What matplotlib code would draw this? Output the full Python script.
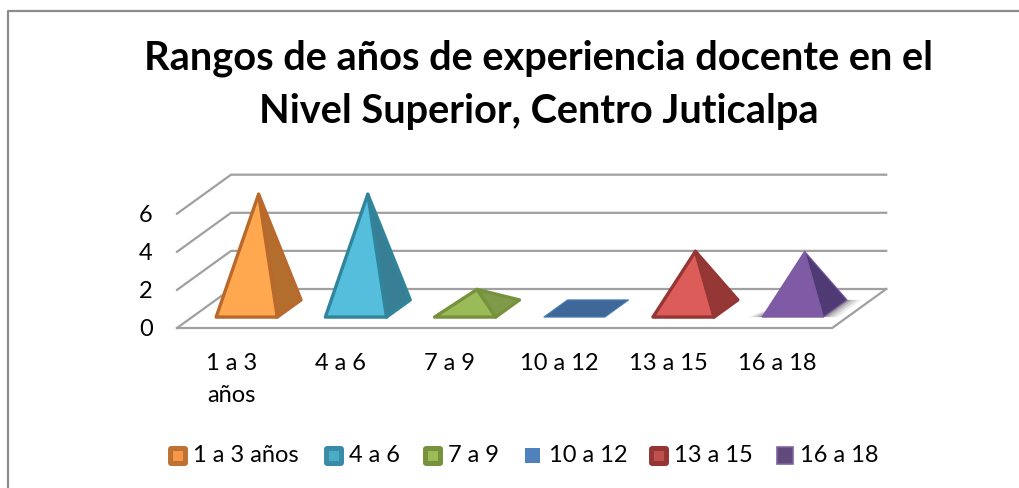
import matplotlib
matplotlib.use("Agg")
import matplotlib.pyplot as plt
from matplotlib.patches import Polygon, Rectangle

categories = ["1 a 3\naños", "4 a 6", "7 a 9", "10 a 12", "13 a 15", "16 a 18"]
legend_labels = ["1 a 3 años", "4 a 6", "7 a 9", "10 a 12", "13 a 15", "16 a 18"]
values = [6, 6, 1, 0, 3, 3]
y_ticks = [0, 2, 4, 6]
front_colors = ["#FFA84F", "#55BEDD", "#9BBB59", "#3F6797", "#DC5C5A", "#7F5BA6"]
side_colors = ["#B36E2E", "#387F96", "#7F9A48", "#3F6797", "#953735", "#4F3A75"]
edge_colors = ["#B8692B", "#31859B", "#76923C", "#4A7EBB", "#943634", "#7A5AA0"]
legend_outer = ["#BC7235", "#3A8BA5", "#76923C", "#4F81BD", "#943634", "#8064A2"]
legend_inner = ["#F79646", "#4BACC6", "#9BBB59", "#4F81BD", "#C0504D", "#604A7B"]

W, H = 1019, 488
UX, UY = 109.2, 19.05      # px per category / per value unit
X0, Y0 = 177, 328          # front left corner of the floor
DX, DY = 54, 39            # wall offset
BASE = 0.56                # pyramid width, in categories
D0, D1 = 0.28, 0.72        # pyramid depth range

fig = plt.figure(figsize=(W / 100, H / 100), dpi=100)
ax = fig.add_axes([0, 0, 1, 1])
ax.set_xlim(-0.5 - X0 / UX, -0.5 + (W - X0) / UX)
ax.set_ylim(-(H - Y0) / UY, Y0 / UY)
ax.axis("off")


def proj(x, v, d=0.0):
    # d is depth from 0 (front) to 1 (back wall)
    return (x + d * DX / UX, v + d * DY / UY)


def px(x, y):
    return (x / W, 1 - y / H)


# outer frame, only top and left are in the picture
fig.add_artist(plt.Line2D([7.5 / W, 7.5 / W, 1], [0, 1 - 11 / H, 1 - 11 / H], color="#8C8C8C", lw=1.6))

# title
fig.text(539 / W, 1 - 58 / H, "Rangos de años de experiencia docente en el",
         family="Lato", weight="bold", fontsize=28.6, ha="center", va="center", color="black")
fig.text(539 / W, 1 - 111 / H, "Nivel Superior, Centro Juticalpa",
         family="Lato", weight="bold", fontsize=28.6, ha="center", va="center", color="black")

# walls and floor
grid = "#A0A0A0"
xl, xr = -0.5, 5.5
for t in y_ticks:
    ax.plot(*zip(proj(xl, t, 0), proj(xl, t, 1), proj(xr, t, 1)), color=grid, lw=1.6, zorder=1,
            solid_joinstyle="miter")
ax.plot(*zip(proj(xr, 0, 1), proj(xr, 0, 0), proj(xl, 0, 0)), color=grid, lw=1.6, zorder=1)

for t in y_ticks:
    ax.text(xl - 31 / UX, t - 0.1, str(t), fontsize=17, family="Lato", ha="center", va="center")

# pyramids
for i, v in enumerate(values):
    c0, c1 = i - BASE / 2, i + BASE / 2
    fl, fr = proj(c0, 0, D0), proj(c1, 0, D0)
    br, bl = proj(c1, 0, D1), proj(c0, 0, D1)
    apex = proj(i, v, (D0 + D1) / 2)
    if i == 5:
        # soft shadow round the purple one
        for grow, a in [(14, 0.10), (10, 0.15), (6, 0.2), (3, 0.25)]:
            g = grow / UX
            ax.add_patch(Polygon([proj(c0 - g, 0, D0), proj(c1 + g, 0, D0),
                                  proj(c1 + g, 0, D1), proj(c0 + g / 2, 0, D1)],
                                 color="#404040", alpha=a, lw=0, zorder=2))
    if v == 0:
        ax.add_patch(Polygon([fl, fr, br, bl], facecolor=front_colors[i], edgecolor=edge_colors[i],
                             lw=0.8, zorder=3))
        continue
    lw = 0.8 if i == 5 else 2.4
    ax.add_patch(Polygon([fr, br, apex], facecolor=side_colors[i], edgecolor=edge_colors[i],
                         lw=lw, joinstyle="round", zorder=3))
    ax.add_patch(Polygon([fl, fr, apex], facecolor=front_colors[i], edgecolor=edge_colors[i],
                         lw=lw, joinstyle="round", zorder=4))

# category labels
for i, lab in enumerate(categories):
    for j, part in enumerate(lab.split("\n")):
        ax.text(i, -(363 + 33 * j - Y0) / UY, part, fontsize=17, family="Lato", ha="center", va="center")

# legend
box_x = [168, 324, 423, 525, 649, 777]
text_x = [193, 349, 448, 549, 674, 800]
for i, lab in enumerate(legend_labels):
    x = box_x[i]
    if i == 3:
        fig.add_artist(Rectangle(px(x, 463), 15 / W, 15 / H, facecolor=legend_inner[i],
                                 edgecolor="none", transform=fig.transFigure))
    elif i == 5:
        fig.add_artist(Rectangle(px(x, 464), 16 / W, 17 / H, facecolor=legend_inner[i],
                                 edgecolor=legend_outer[i], lw=1.2, transform=fig.transFigure))
    else:
        fig.add_artist(Rectangle(px(x + 3, 463), 14 / W, 14 / H, facecolor=legend_outer[i],
                                 edgecolor=legend_outer[i], lw=4.3, joinstyle="round",
                                 transform=fig.transFigure))
        fig.add_artist(Rectangle(px(x + 5, 461), 10 / W, 10 / H, facecolor=legend_inner[i],
                                 edgecolor="none", transform=fig.transFigure))
    fig.text(text_x[i] / W, 1 - 456 / H, lab, fontsize=17, family="Lato", ha="left", va="center")

fig.savefig("out.png", dpi=100)
